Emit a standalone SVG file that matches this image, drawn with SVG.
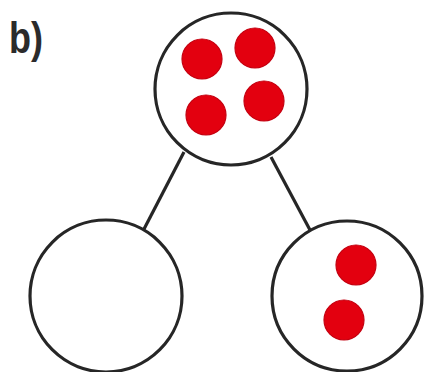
<svg xmlns="http://www.w3.org/2000/svg" width="424" height="372" viewBox="0 0 424 372">
<style>
.node{fill:#fff;stroke:#262626;stroke-width:3.2}
.dot{fill:#e3000f;stroke:#c40010;stroke-width:1.2}
.edge{stroke:#262626;stroke-width:3.2;fill:none}
.lbl{font-family:"Liberation Sans",Arial,sans-serif;font-weight:bold;font-size:45px;fill:#2b2b2b}
</style>
<rect width="424" height="372" fill="#fff"/>
<text class="lbl" x="9" y="53" textLength="34" lengthAdjust="spacingAndGlyphs">b)</text>
<g id="connectors">
<line class="edge" x1="184" y1="152" x2="143" y2="231"/>
<line class="edge" x1="271" y1="157" x2="310" y2="230"/>
</g>
<g id="top">
<circle class="node" cx="231" cy="89" r="76"/>
<circle class="dot" cx="202" cy="59" r="20"/>
<circle class="dot" cx="255" cy="48" r="20"/>
<circle class="dot" cx="206" cy="115" r="20"/>
<circle class="dot" cx="264" cy="101" r="20"/>
</g>
<g id="left">
<circle class="node" cx="106" cy="296" r="76"/>
</g>
<g id="right">
<circle class="node" cx="347" cy="296" r="75"/>
<circle class="dot" cx="356" cy="265" r="20"/>
<circle class="dot" cx="344" cy="320" r="20"/>
</g>
</svg>
